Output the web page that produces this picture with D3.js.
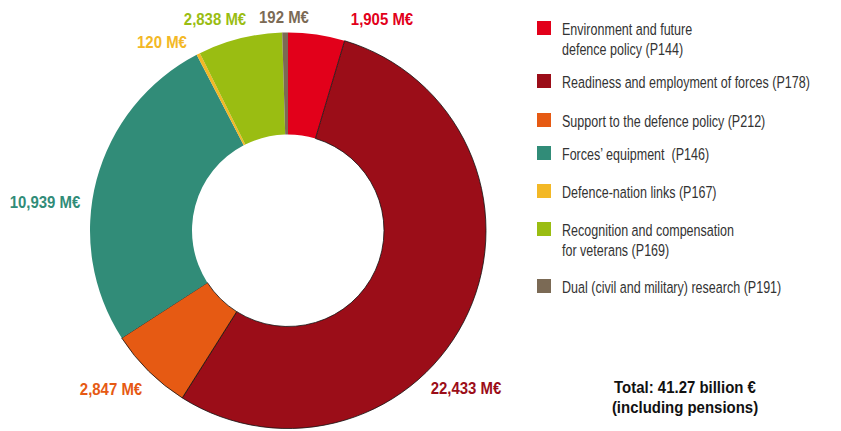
<!DOCTYPE html>
<html><head><meta charset="utf-8">
<script src="https://cdn.jsdelivr.net/npm/d3@7"></script>
<style>
html,body{margin:0;padding:0;background:#fff;}
svg{display:block;font-family:"Liberation Sans",Arial,sans-serif;}
text{white-space:pre;}
</style></head>
<body><svg id="c" width="841" height="431"></svg>
<script>
const categories = [
  ["Environment and future", "defence policy (P144)"],
  ["Readiness and employment of forces (P178)"],
  ["Support to the defence policy (P212)"],
  ["Forces\u2019 equipment  (P146)"],
  ["Defence-nation links (P167)"],
  ["Recognition and compensation", "for veterans (P169)"],
  ["Dual (civil and military) research (P191)"]
];
const values = [1905, 22433, 2847, 10939, 120, 2838, 192];
const valueLabels = ["1,905 M\u20ac","22,433 M\u20ac","2,847 M\u20ac","10,939 M\u20ac","120 M\u20ac","2,838 M\u20ac","192 M\u20ac"];
const colors = ["#e2001a","#9b0d18","#e65a13","#318c78","#f3b826","#9abd12","#7b6a55"];
const totalLines = ["Total: 41.27 billion \u20ac","(including pensions)"];

// layout (not data)
const cx = 288, cy = 230.5, rOut = 198, rIn = 96;
const labelPos = [[382,25],[466,394],[111,395],[45,208],[162,48],[215,25],[284,23]];
const legendY = [21, 74, 113, 146, 184, 222, 279];
const legendTextY = [35, 88, 127, 160, 198, 236, 293];

const svg = d3.select("#c");
const pie = d3.pie().sort(null).value(d => d);
const arcs = pie(values);
const arc = d3.arc().innerRadius(rIn).outerRadius(rOut);
const g = svg.append("g").attr("transform", `translate(${cx},${cy})`);
g.selectAll("path").data(arcs).join("path")
  .attr("d", arc)
  .attr("fill", (d,i) => colors[i])
  .attr("stroke", (d,i) => (i===1||i===2) ? "#111" : "none")
  .attr("stroke-width", 0.8);

// condensed look: measure reference strings and compute horizontal squeeze
function measure(txt, size, weight) {
  const t = svg.append("text").attr("font-size", size).attr("font-weight", weight).text(txt);
  const w = t.node().getComputedTextLength(); t.remove(); return w;
}
const kReg = 248 / measure("Readiness and employment of forces (P178)", 16.5, "normal");
const kBold = 142 / measure("Total: 41.27 billion \u20ac", 17, "bold");

function addText(parent, x, y, txt, opts) {
  const k = opts.bold ? kBold : kReg;
  return parent.append("text")
    .attr("transform", `translate(${x},${y}) scale(${k},1)`)
    .attr("text-anchor", opts.anchor || "start")
    .attr("font-size", opts.size)
    .attr("font-weight", opts.bold ? "bold" : "normal")
    .attr("fill", opts.fill)
    .text(txt);
}

valueLabels.forEach((t, i) => addText(svg, labelPos[i][0], labelPos[i][1], t, {bold:true, size:17, fill:colors[i], anchor:"middle"}));

const lg = svg.append("g");
categories.forEach((lines, i) => {
  lg.append("rect").attr("x", 537).attr("y", legendY[i]).attr("width", 14).attr("height", 14).attr("fill", colors[i]);
  lines.forEach((t, j) => addText(lg, 562, legendTextY[i] + j*20, t, {size:16.5, fill:"#333"}));
});

totalLines.forEach((t, j) => addText(svg, 685, 393 + j*20, t, {bold:true, size:17, fill:"#111", anchor:"middle"}));
</script></body></html>
